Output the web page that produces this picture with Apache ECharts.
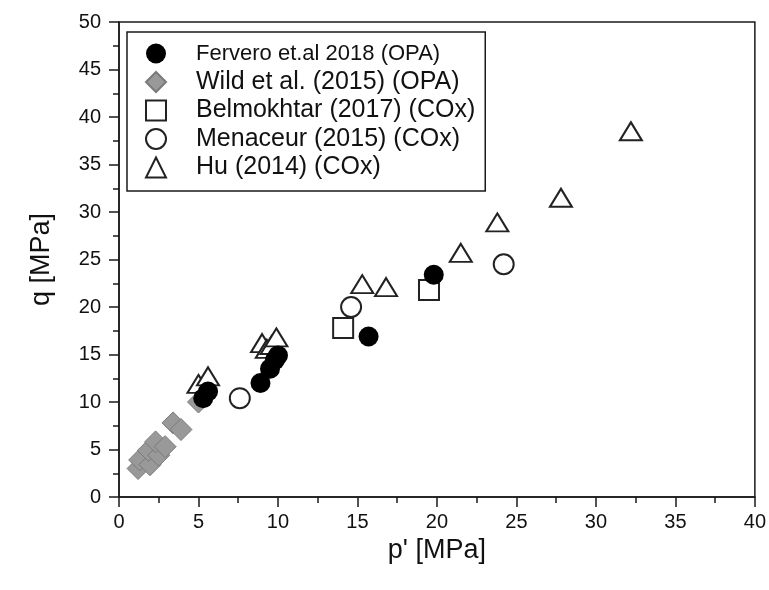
<!DOCTYPE html>
<html>
<head>
<meta charset="utf-8">
<script src="https://cdn.jsdelivr.net/npm/echarts@6/dist/echarts.min.js"></script>
<style>
  html, body { margin: 0; padding: 0; background: #fff; }
  #chart { width: 769px; height: 590px; }
</style>
</head>
<body>
<div id="chart"></div>
<script>
// Mean effective stress p' [MPa] vs deviatoric stress q [MPa], pairs of [p', q]
const ferveroOPA = [
  [5.3, 10.4], [5.6, 11.1], [8.9, 12.0], [9.5, 13.5], [9.8, 14.4],
  [10.0, 14.9], [15.7, 16.9], [19.8, 23.4]
];
const wildOPA = [
  [1.2, 3.0], [1.3, 3.9], [1.95, 3.4], [1.85, 4.9], [2.5, 4.4],
  [2.3, 5.8], [2.9, 5.3], [3.4, 7.8], [3.9, 7.1], [5.0, 10.0]
];
const belmokhtarCOx = [[14.1, 17.8], [19.5, 21.8]];
const menaceurCOx = [[7.6, 10.4], [14.6, 20.0], [24.2, 24.5]];
const huCOx = [
  [5.0, 11.9], [5.6, 12.7], [9.0, 16.2], [9.3, 15.6], [9.6, 16.0],
  [9.9, 16.8], [15.3, 22.4], [16.8, 22.1], [21.5, 25.7], [23.8, 28.9],
  [27.8, 31.5], [32.2, 38.5]
];

const xTicks = { min: 0, max: 40, interval: 5 };
const yTicks = { min: 0, max: 50, interval: 5 };

const legendNames = [
  'Fervero et.al 2018 (OPA)',
  'Wild et al. (2015) (OPA)',
  'Belmokhtar (2017) (COx)',
  'Menaceur (2015) (COx)',
  'Hu (2014) (COx)'
];

const FONT = 'Liberation Sans, Arial, sans-serif';
const INK = '#1a1a1a';

const chart = echarts.init(document.getElementById('chart'), null, { renderer: 'canvas' });

const axisCommon = {
  axisLine: { show: true, onZero: false, lineStyle: { color: INK, width: 1.5 } },
  axisTick: { show: true, inside: false, length: 10, lineStyle: { color: INK, width: 1.5 } },
  minorTick: { show: true, splitNumber: 2, length: 6, lineStyle: { color: INK, width: 1.5 } },
  splitLine: { show: false },
  axisLabel: { color: '#111', fontFamily: FONT, fontSize: 20 },
  nameTextStyle: { color: '#111', fontFamily: FONT, fontSize: 27 }
};

chart.setOption({
  animation: false,
  backgroundColor: '#fff',
  grid: {
    left: 119, right: 14, top: 22, bottom: 93,
    show: true, borderColor: INK, borderWidth: 1.5, containLabel: false
  },
  xAxis: Object.assign({}, axisCommon, {
    type: 'value',
    min: xTicks.min, max: xTicks.max, interval: xTicks.interval,
    name: "p' [MPa]", nameLocation: 'middle', nameGap: 38,
    axisLabel: Object.assign({}, axisCommon.axisLabel, { margin: 15 })
  }),
  yAxis: Object.assign({}, axisCommon, {
    type: 'value',
    min: yTicks.min, max: yTicks.max, interval: yTicks.interval,
    name: 'q [MPa]', nameLocation: 'middle', nameGap: 64, nameRotate: 90,
    axisLabel: Object.assign({}, axisCommon.axisLabel, { margin: 18 })
  }),
  legend: {
    orient: 'vertical',
    left: 127, top: 32,
    padding: [9, 10, 11, 18],
    itemWidth: 20, itemHeight: 20, itemGap: 3.5,
    borderColor: INK, borderWidth: 1.5,
    backgroundColor: '#fff',
    textStyle: { color: '#111', fontFamily: FONT, fontSize: 25, lineHeight: 25, padding: [0, 0, 0, 25] },
    data: [
      { name: legendNames[0], textStyle: { fontSize: 22 } },
      { name: legendNames[1] },
      { name: legendNames[2] },
      { name: legendNames[3] },
      { name: legendNames[4] }
    ]
  },
  series: [
    {
      name: legendNames[4], type: 'scatter', data: huCOx,
      symbol: 'triangle', symbolSize: [22, 18],
      itemStyle: { color: '#fff', borderColor: '#222', borderWidth: 2, opacity: 1 }
    },
    {
      name: legendNames[3], type: 'scatter', data: menaceurCOx,
      symbol: 'circle', symbolSize: 20,
      itemStyle: { color: '#fff', borderColor: '#222', borderWidth: 2, opacity: 1 }
    },
    {
      name: legendNames[2], type: 'scatter', data: belmokhtarCOx,
      symbol: 'rect', symbolSize: 20,
      itemStyle: { color: '#fff', borderColor: '#222', borderWidth: 2, opacity: 1 }
    },
    {
      name: legendNames[1], type: 'scatter', data: wildOPA,
      symbol: 'diamond', symbolSize: 22,
      itemStyle: { color: '#999', borderColor: '#7a7a7a', borderWidth: 1, opacity: 1 }
    },
    {
      name: legendNames[0], type: 'scatter', data: ferveroOPA,
      symbol: 'circle', symbolSize: 20,
      itemStyle: { color: '#000', borderColor: '#000', borderWidth: 0, opacity: 1 }
    }
  ]
});
</script>
</body>
</html>
